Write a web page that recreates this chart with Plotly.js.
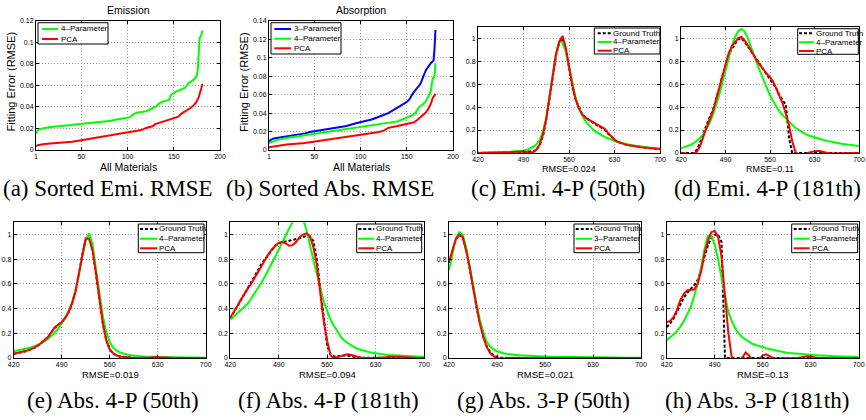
<!DOCTYPE html>
<html><head><meta charset="utf-8">
<script src="https://cdn.plot.ly/plotly-3.0.1.min.js"></script>
<style>html,body{margin:0;padding:0;background:#fff;}#chart{width:866px;height:420px;}</style>
</head><body><div id="chart"></div>
<script>
// ---------- DATA ----------
// (a) Sorted emission RMSE
const emiSortIdx4P = [1,2,4,10,20,30,40,50,60,70,80,90,100,103,106,110,120,125,130,134,137,145,147,152,157,162,166,172,175,176,177,178,180,181];
const emiSort4P    = [0.015,0.017,0.019,0.0205,0.0215,0.0225,0.023,0.0238,0.025,0.026,0.027,0.0285,0.0295,0.0305,0.033,0.0345,0.036,0.038,0.040,0.043,0.0447,0.0465,0.051,0.054,0.056,0.0575,0.062,0.0655,0.069,0.075,0.09,0.104,0.107,0.111];
const emiSortIdxPCA = [1,3,10,20,30,40,50,60,70,80,90,100,108,115,120,127,130,140,150,155,158,162,168,171,174,177,179,180,181];
const emiSortPCA    = [0.0035,0.0045,0.0055,0.0062,0.0068,0.0076,0.009,0.0105,0.012,0.0135,0.015,0.016,0.017,0.0185,0.0205,0.022,0.024,0.027,0.030,0.031,0.0335,0.0355,0.039,0.041,0.044,0.049,0.054,0.058,0.0615];
// (b) Sorted absorption RMSE
const absSortIdx3P = [1,3,6,15,30,40,45,55,70,85,95,105,112,120,130,140,150,153,157,162,165,168,171,176,179,180,181];
const absSort3P    = [0.009,0.011,0.0125,0.014,0.016,0.018,0.0195,0.021,0.023,0.026,0.029,0.031,0.033,0.036,0.040,0.046,0.052,0.055,0.062,0.068,0.072,0.080,0.087,0.094,0.097,0.110,0.130];
const absSortIdx4P = [1,5,10,20,30,40,50,60,70,85,100,115,130,140,145,150,157,160,163,167,170,173,176,178,180,181];
const absSort4P    = [0.0075,0.009,0.011,0.013,0.0145,0.016,0.018,0.019,0.0205,0.023,0.0255,0.028,0.030,0.031,0.033,0.035,0.038,0.041,0.046,0.049,0.052,0.057,0.064,0.077,0.080,0.094];
const absSortIdxPCA = [1,10,20,40,60,80,100,110,120,125,130,140,150,158,162,166,170,173,176,178,181];
const absSortPCA    = [0.003,0.0045,0.006,0.0075,0.0105,0.013,0.016,0.0175,0.0195,0.021,0.024,0.026,0.028,0.030,0.033,0.036,0.040,0.044,0.050,0.056,0.061];

// Wavelength grid (nm)
const wavelengths = [420,425,430,435,440,445,450,455,460,465,470,475,480,485,490,495,500,505,510,515,520,525,530,535,540,545,550,555,560,565,570,575,580,585,590,595,600,605,610,615,620,625,630,635,640,645,650,655,660,665,670,675,680,685,690,695,700];

// (c) Emission, 4-P, 50th
const emi50GT  = [0,0,0,0,0,0,0,0,0,0.002,0.004,0.006,0.008,0.01,0.01,0.01,0.01,0.015,0.03,0.07,0.15,0.29,0.47,0.68,0.85,0.96,1.0,0.91,0.74,0.58,0.47,0.4,0.34,0.31,0.29,0.27,0.25,0.235,0.22,0.2,0.17,0.14,0.115,0.097,0.085,0.077,0.07,0.065,0.06,0.056,0.052,0.048,0.045,0.042,0.04,0.037,0.035];
const emi50Fit = [0.003,0.003,0.004,0.004,0.005,0.005,0.006,0.007,0.008,0.009,0.01,0.012,0.014,0.017,0.021,0.028,0.038,0.052,0.075,0.115,0.19,0.31,0.49,0.69,0.87,0.97,0.96,0.88,0.75,0.61,0.49,0.4,0.33,0.28,0.245,0.215,0.19,0.17,0.155,0.14,0.127,0.115,0.105,0.096,0.088,0.081,0.075,0.07,0.065,0.06,0.056,0.052,0.049,0.046,0.043,0.041,0.038];
const emi50PCA = [0,0,0,0,0,0,0,0,0.002,0.004,0.006,0.008,0.01,0.012,0.012,0.008,0.003,0.008,0.03,0.075,0.16,0.3,0.48,0.69,0.86,0.97,1.02,0.92,0.75,0.59,0.47,0.39,0.34,0.31,0.29,0.275,0.26,0.245,0.23,0.21,0.175,0.14,0.115,0.097,0.085,0.077,0.07,0.064,0.058,0.054,0.05,0.047,0.044,0.041,0.039,0.036,0.034];
// (d) Emission, 4-P, 181th
const emi181GT  = [0,0,0,0,0,0.03,0.09,0.17,0.25,0.31,0.37,0.46,0.56,0.67,0.77,0.85,0.91,0.95,0.99,1.0,0.97,0.93,0.89,0.85,0.81,0.77,0.72,0.68,0.65,0.61,0.56,0.5,0.46,0.42,0.13,0,0,0,0,0,0,0,0,0,0,0,0,0,0,0,0,0,0,0,0,0,0];
const emi181Fit = [0.04,0.048,0.058,0.07,0.085,0.105,0.13,0.165,0.21,0.26,0.33,0.41,0.5,0.61,0.72,0.83,0.93,1.01,1.06,1.08,1.06,1.0,0.93,0.85,0.77,0.7,0.63,0.56,0.5,0.45,0.4,0.36,0.33,0.3,0.27,0.245,0.22,0.2,0.18,0.167,0.155,0.145,0.135,0.127,0.12,0.112,0.105,0.099,0.093,0.088,0.083,0.079,0.075,0.071,0.068,0.064,0.06];
const emi181PCA = [0,0,-0.01,-0.01,-0.005,0.01,0.06,0.14,0.22,0.29,0.36,0.46,0.57,0.68,0.78,0.87,0.93,0.97,1.0,1.01,0.98,0.94,0.89,0.84,0.8,0.76,0.72,0.69,0.66,0.62,0.56,0.5,0.43,0.34,0.24,0.1,0.01,-0.02,-0.03,-0.02,0,0.01,0.018,0.02,0.015,0.005,0,-0.005,-0.005,0,0,0,0,0,0,0,0];
// (e) Absorption, 4-P, 50th
const abs50GT4  = [0.033,0.038,0.044,0.051,0.06,0.07,0.082,0.1,0.12,0.143,0.17,0.205,0.245,0.27,0.29,0.325,0.37,0.44,0.54,0.68,0.84,0.96,1.0,0.88,0.69,0.47,0.28,0.145,0.07,0.037,0.02,0.012,0.008,0.005,0.003,0.002,0.001,0.001,0.001,0.002,0.004,0.006,0.005,0.003,0.001,0,0,0,0,0,0,0,0,0,0,0,0];
const abs50Fit4 = [0.055,0.06,0.065,0.07,0.077,0.085,0.095,0.107,0.12,0.135,0.155,0.178,0.205,0.24,0.28,0.325,0.38,0.45,0.55,0.67,0.82,0.95,1.01,0.92,0.72,0.52,0.34,0.21,0.13,0.085,0.06,0.045,0.035,0.028,0.023,0.019,0.016,0.014,0.012,0.011,0.01,0.009,0.008,0.007,0.007,0.006,0.006,0.005,0.005,0.005,0.004,0.004,0.004,0.004,0.003,0.003,0.003];
const abs50PCA4 = [0.035,0.04,0.045,0.052,0.06,0.07,0.082,0.1,0.12,0.145,0.17,0.21,0.25,0.27,0.29,0.325,0.37,0.44,0.535,0.68,0.84,0.97,0.965,0.87,0.69,0.47,0.28,0.145,0.07,0.038,0.02,0.012,0.008,0.005,0.003,0.001,0,0,0,0.002,0.005,0.008,0.006,0.003,0,0,0,0,0,0,0,0,0,0,0,0,0];
// (f) Absorption, 4-P, 181th
const abs181GT4  = [0.32,0.37,0.42,0.47,0.52,0.57,0.61,0.66,0.71,0.76,0.8,0.84,0.88,0.91,0.93,0.94,0.945,0.95,0.955,0.96,0.97,0.98,0.99,0.98,0.95,0.8,0.55,0.3,0.1,0.03,0.012,0.015,0.02,0.02,0.018,0.012,0.008,0.005,0.003,0.002,0.002,0,0,0,0,0,0,0,0,0,0,0,0,0,0,0,0];
const abs181Fit4 = [0.31,0.335,0.36,0.385,0.41,0.44,0.48,0.52,0.56,0.61,0.66,0.71,0.76,0.82,0.88,0.94,1.0,1.06,1.11,1.16,1.17,1.13,1.04,0.93,0.8,0.68,0.56,0.46,0.38,0.31,0.26,0.21,0.17,0.14,0.12,0.1,0.085,0.073,0.063,0.055,0.048,0.042,0.037,0.033,0.03,0.027,0.024,0.022,0.02,0.018,0.017,0.015,0.014,0.013,0.012,0.011,0.01];
const abs181PCA4 = [0.33,0.37,0.42,0.47,0.52,0.56,0.6,0.65,0.7,0.75,0.8,0.84,0.88,0.91,0.935,0.94,0.93,0.91,0.915,0.94,0.98,1.0,1.01,0.99,0.9,0.76,0.52,0.3,0.14,0.02,0,0.005,0.015,0.025,0.03,0.025,0.015,0.008,0.003,0,0,0,0,0,0.002,0.006,0.01,0.012,0.012,0.01,0.008,0.005,0.003,0.002,0.001,0,0];
// (g) Absorption, 3-P, 50th
const abs50GT3  = [0.77,0.87,0.96,1.0,0.98,0.88,0.74,0.58,0.41,0.28,0.17,0.095,0.05,0.022,0.008,0.002,0,0,0,0,0,0,0,0,0,0,0,0,0,0,0,0,0,0,0,0,0,0,0,0,0,0,0,0,0,0,0,0,0,0,0,0,0,0,0,0,0];
const abs50Fit3 = [0.71,0.85,0.97,1.02,1.0,0.9,0.76,0.6,0.44,0.31,0.21,0.13,0.095,0.07,0.055,0.045,0.038,0.032,0.028,0.024,0.022,0.021,0.02,0.018,0.017,0.016,0.014,0.013,0.012,0.011,0.01,0.01,0.009,0.008,0.008,0.007,0.007,0.006,0.006,0.006,0.005,0.005,0.005,0.005,0.004,0.004,0.004,0.004,0.004,0.004,0.003,0.003,0.003,0.003,0.003,0.003,0.003];
const abs50PCA3 = [0.78,0.87,0.965,1.0,0.98,0.87,0.74,0.575,0.41,0.28,0.17,0.09,0.04,0.015,0,-0.005,-0.005,0,0.002,0.003,0.002,0,-0.002,-0.002,0,0,0,0.001,0.002,0.002,0.002,0.001,0.001,0.001,0.001,0.001,0.001,0.001,0.001,0.001,0.001,0.001,0.001,0.001,0.001,0.001,0.001,0.001,0.001,0.001,0.001,0.001,0.001,0.001,0.001,0.001,0.001];
// (h) Absorption, 3-P, 181th
const abs181GT3  = [0.25,0.28,0.32,0.38,0.44,0.49,0.53,0.56,0.59,0.63,0.71,0.82,0.91,0.97,1.0,1.0,0.94,0,0,0,0,0,0,0,0,0,0,0,0,0,0,0,0,0,0,0,0,0,0,0,0,0,0,0,0,0,0,0,0,0,0,0,0,0,0,0,0];
const abs181Fit3 = [0.145,0.165,0.19,0.22,0.255,0.3,0.35,0.41,0.5,0.6,0.73,0.88,0.99,0.99,0.92,0.8,0.65,0.5,0.37,0.3,0.24,0.2,0.17,0.15,0.13,0.115,0.105,0.095,0.088,0.08,0.073,0.066,0.058,0.052,0.047,0.043,0.04,0.037,0.034,0.031,0.029,0.027,0.025,0.023,0.021,0.02,0.018,0.017,0.016,0.015,0.014,0.013,0.012,0.011,0.01,0.009,0.008];
const abs181PCA3 = [0.29,0.3,0.33,0.39,0.47,0.52,0.55,0.55,0.555,0.6,0.7,0.84,0.95,1.02,1.03,0.98,0.82,0.5,0.2,0,-0.03,-0.02,0,0.045,0.02,-0.02,-0.03,-0.01,0.02,0.03,0.015,0,-0.005,-0.005,0,0,0,0,0,0.005,0.012,0.015,0.01,0.003,0,0,0,0,0,0,0,0,0,0,0,0,0];

// Tick labels
const sortXTicks = [1,50,100,150,200];
const emiYTicks = [0,0.02,0.04,0.06,0.08,0.1,0.12];
const emiYText  = ['0','0.02','0.04','0.06','0.08','0.1','0.12'];
const absYTicks = [0,0.02,0.04,0.06,0.08,0.1,0.12,0.14];
const absYText  = ['0','0.02','0.04','0.06','0.08','0.1','0.12','0.14'];
const wlTicks = [420,490,560,630,700];
const specYTicks = [0,0.2,0.4,0.6,0.8,1];
const specYText  = ['0','0.2','0.4','0.6','0.8','1'];

// ---------- LAYOUT HELPERS ----------
const W = 866, H = 420;
const px = x => x / W;
const py = y => 1 - y / H;
const SANS = 'Liberation Sans, Arial, Helvetica, sans-serif';
const SERIF = 'Liberation Serif, Times New Roman, serif';
const GREEN = '#00ff00', RED = '#ff0000', BLUE = '#0000ff', BLACK = '#000000';

function axisBase(extra) {
  return Object.assign({
    showline: true, linecolor: '#000', linewidth: 1, mirror: 'ticks',
    ticks: 'inside', ticklen: 3, tickwidth: 1, tickcolor: '#000',
    showgrid: true, gridcolor: '#9a9a9a', griddash: '1px,2px', gridwidth: 1,
    zeroline: false, fixedrange: true,
    tickfont: {family: SANS, size: 7, color: '#000'}
  }, extra);
}

// panel pixel boxes [x0, x1, yTop, yBottom]
const panels = [
  [36, 220, 20.7, 150],
  [269, 453, 20.7, 150],
  [478, 660, 26.7, 153],
  [681, 859, 26.7, 153],
  [13.7, 205.7, 222.3, 358],
  [230.3, 424, 222.3, 358],
  [449, 641, 222.3, 358],
  [666.7, 858.7, 222.3, 358]
];

const layout = {
  width: W, height: H,
  margin: {l: 0, r: 0, t: 0, b: 0},
  paper_bgcolor: '#fff', plot_bgcolor: '#fff',
  showlegend: false,
  font: {family: SANS, color: '#000'},
  shapes: [], annotations: []
};

panels.forEach((p, i) => {
  const n = i === 0 ? '' : String(i + 1);
  let xa, ya;
  if (i === 0 || i === 1) {
    xa = axisBase({range: [1, 200], tickmode: 'array', tickvals: sortXTicks, ticktext: sortXTicks.map(String)});
    ya = i === 0 ? axisBase({range: [0, 0.12], tickmode: 'array', tickvals: emiYTicks, ticktext: emiYText})
                 : axisBase({range: [0, 0.14], tickmode: 'array', tickvals: absYTicks, ticktext: absYText});
  } else {
    xa = axisBase({range: [420, 700], tickmode: 'array', tickvals: wlTicks, ticktext: wlTicks.map(String)});
    ya = axisBase({range: [0, 1.1], tickmode: 'array', tickvals: specYTicks, ticktext: specYText});
  }
  xa.domain = [px(p[0]), px(p[1])];
  ya.domain = [py(p[3]), py(p[2])];
  xa.anchor = 'y' + n;
  ya.anchor = 'x' + n;
  layout['xaxis' + n] = xa;
  layout['yaxis' + n] = ya;
});

// ---------- TRACES ----------
const traces = [];
function addLine(panel, x, y, color, name, dash) {
  const n = panel === 0 ? '' : String(panel + 1);
  traces.push({
    type: 'scatter', mode: 'lines', x: x, y: y, name: name,
    xaxis: 'x' + n, yaxis: 'y' + n,
    line: {color: color, width: 2, dash: dash || 'solid'},
    hoverinfo: 'skip'
  });
}
addLine(0, emiSortIdx4P, emiSort4P, GREEN, '4-Parameter');
addLine(0, emiSortIdxPCA, emiSortPCA, RED, 'PCA');
addLine(1, absSortIdx3P, absSort3P, BLUE, '3-Parameter');
addLine(1, absSortIdx4P, absSort4P, GREEN, '4-Parameter');
addLine(1, absSortIdxPCA, absSortPCA, RED, 'PCA');
const specSets = [
  [2, emi50GT, emi50Fit, emi50PCA, '4-Parameter'],
  [3, emi181GT, emi181Fit, emi181PCA, '4-Parameter'],
  [4, abs50GT4, abs50Fit4, abs50PCA4, '4-Parameter'],
  [5, abs181GT4, abs181Fit4, abs181PCA4, '4-Parameter'],
  [6, abs50GT3, abs50Fit3, abs50PCA3, '3-Parameter'],
  [7, abs181GT3, abs181Fit3, abs181PCA3, '3-Parameter']
];
specSets.forEach(s => {
  addLine(s[0], wavelengths, s[1], BLACK, 'Ground Truth', '3px,2px');
  addLine(s[0], wavelengths, s[2], GREEN, s[4]);
  addLine(s[0], wavelengths, s[3], RED, 'PCA');
});

// ---------- LEGENDS (drawn boxes) ----------
function legend(box, lineX, textX, items) {
  layout.shapes.push({type: 'rect', xref: 'paper', yref: 'paper', layer: 'above',
    x0: px(box[0]), x1: px(box[1]), y0: py(box[3]), y1: py(box[2]),
    line: {color: '#000', width: 1}, fillcolor: '#fff'});
  items.forEach(it => {
    layout.shapes.push({type: 'line', xref: 'paper', yref: 'paper', layer: 'above',
      x0: px(lineX[0]), x1: px(lineX[1]), y0: py(it[0]), y1: py(it[0]),
      line: {color: it[1], width: 2, dash: it[3] || 'solid'}});
    layout.annotations.push({xref: 'paper', yref: 'paper', x: px(textX), y: py(it[0]),
      xanchor: 'left', yanchor: 'middle', showarrow: false, text: it[2],
      borderpad: 0, font: {family: SANS, size: 8, color: '#000'}});
  });
}
legend([38, 108, 22.7, 44], [42, 58], 59.5, [[29, GREEN, '4–Parameter'], [39, RED, 'PCA']]);
legend([271, 341, 22.7, 54], [274.3, 291], 292.5, [[29, BLUE, '3–Parameter'], [38.7, GREEN, '4–Parameter'], [48.3, RED, 'PCA']]);
legend([594.3, 660, 28, 54], [597.7, 611.7], 612, [[33.3, BLACK, 'Ground Truth', '3px,2px'], [42, GREEN, '4–Parameter'], [50.7, RED, 'PCA']]);
legend([797.7, 858.3, 28.7, 54.3], [799, 814], 814.5, [[33.3, BLACK, 'Ground Truth', '3px,2px'], [42.3, GREEN, '4–Parameter'], [51, RED, 'PCA']]);
legend([138.3, 204, 224, 252.7], [140, 157.3], 158, [[229, BLACK, 'Ground Truth', '3px,2px'], [238.7, GREEN, '4–Parameter'], [248.3, RED, 'PCA']]);
legend([356.7, 421.7, 224, 252.7], [358.3, 374.3], 375, [[229, BLACK, 'Ground Truth', '3px,2px'], [238.7, GREEN, '4–Parameter'], [248.3, RED, 'PCA']]);
legend([574, 639.3, 224, 252.7], [575.7, 592.3], 593, [[229, BLACK, 'Ground Truth', '3px,2px'], [238.7, GREEN, '3–Parameter'], [248.3, RED, 'PCA']]);
legend([791.7, 857.7, 224, 252.7], [793.7, 809.7], 810.5, [[229, BLACK, 'Ground Truth', '3px,2px'], [238.7, GREEN, '3–Parameter'], [248.3, RED, 'PCA']]);

// ---------- TEXT ----------
function txt(t, x, y, size, family, angle) {
  layout.annotations.push({xref: 'paper', yref: 'paper', x: px(x), y: py(y),
    xanchor: 'center', yanchor: 'middle', showarrow: false, text: t,
    textangle: angle || 0, borderpad: 0,
    font: {family: family || SANS, size: size, color: '#000'}});
}
txt('Emission', 128.5, 9.5, 10.5);
txt('Absorption', 361, 9.5, 10.5);
txt('Fitting Error (RMSE)', 10.5, 82, 11, SANS, -90);
txt('Fitting Error (RMSE)', 244, 82, 11, SANS, -90);
txt('All Materials', 128, 167, 10.5);
txt('All Materials', 361, 167, 10.5);
txt('RMSE=0.024', 569, 169, 9);
txt('RMSE=0.11', 770, 169, 9);
txt('RMSE=0.019', 110, 374, 9.5);
txt('RMSE=0.094', 327, 374, 9.5);
txt('RMSE=0.021', 545, 374, 9.5);
txt('RMSE=0.13', 763, 374, 9.5);
// sub-captions
txt('(a) Sorted Emi. RMSE', 108, 189, 23, SERIF);
txt('(b) Sorted Abs. RMSE', 330, 189, 23, SERIF);
txt('(c) Emi. 4-P (50th)', 558, 189, 23, SERIF);
txt('(d) Emi. 4-P (181th)', 767, 189, 23, SERIF);
txt('(e) Abs. 4-P (50th)', 113, 400, 23, SERIF);
txt('(f) Abs. 4-P (181th)', 328, 400, 23, SERIF);
txt('(g) Abs. 3-P (50th)', 543, 400, 23, SERIF);
txt('(h) Abs. 3-P (181th)', 757, 400, 23, SERIF);

Plotly.newPlot('chart', traces, layout, {staticPlot: true, displayModeBar: false});
</script>
</body></html>
